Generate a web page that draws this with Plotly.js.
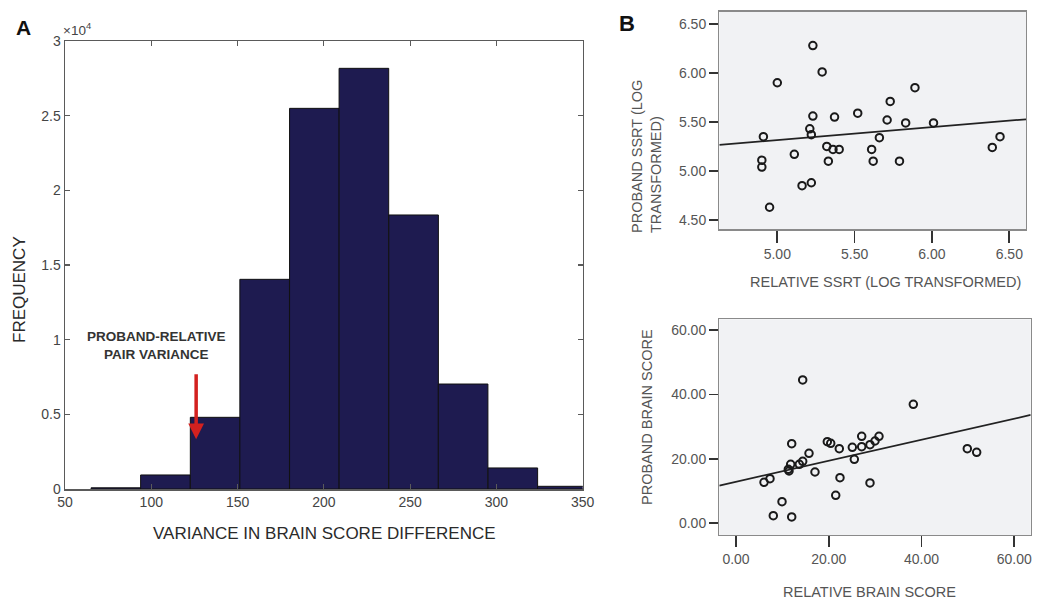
<!DOCTYPE html>
<html>
<head>
<meta charset="utf-8">
<script src="https://cdn.plot.ly/plotly-3.0.1.min.js"></script>
<style>html,body{margin:0;padding:0;background:#fff;}#chart{width:1037px;height:599px;}</style>
</head>
<body>
<div id="chart"></div>
<script>
// ---------- Panel A: histogram data ----------
const binCenters = [79.5, 108.2, 137.0, 165.7, 194.5, 223.2, 252.0, 280.7, 309.5, 338.2];
const binWidth = 28.75;
const binCounts = [80, 940, 4800, 14040, 25490, 28170, 18350, 7030, 1410, 180];
const histYTickVals = [0, 5000, 10000, 15000, 20000, 25000, 30000];
const histYTickText = ['0', '0.5', '1', '1.5', '2', '2.5', '3'];
const histXTickVals = [50, 100, 150, 200, 250, 300, 350];
const pairVariance = 126;          // proband-relative pair variance marked by the arrow
const arrowTop = 7790, arrowTip = 3330;

// ---------- Panel B (top): SSRT ----------
const relativeSSRT = [5.23, 5.29, 5.00, 5.89, 5.73, 5.23, 5.37, 5.52, 5.71, 5.83, 5.21, 5.22, 4.91, 5.66, 5.32,
                      5.36, 5.40, 5.61, 5.11, 4.90, 4.90, 5.33, 5.62, 5.79, 5.16, 5.22, 4.95, 6.01, 6.39, 6.44];
const probandSSRT  = [6.28, 6.01, 5.90, 5.85, 5.71, 5.56, 5.55, 5.59, 5.52, 5.49, 5.43, 5.37, 5.35, 5.34, 5.25,
                      5.22, 5.22, 5.22, 5.17, 5.11, 5.04, 5.10, 5.10, 5.10, 4.85, 4.88, 4.63, 5.49, 5.24, 5.35];
const ssrtFit = {intercept: 4.655, slope: 0.132};
const ssrtXTicks = [5.0, 5.5, 6.0, 6.5];
const ssrtYTicks = [4.5, 5.0, 5.5, 6.0, 6.5];

// ---------- Panel B (bottom): brain score ----------
const relativeBrain = [14.38, 38.23, 12.01, 19.69, 20.42, 22.27, 25.08, 27.10, 27.10, 28.89, 29.97, 30.83, 25.51, 15.74, 11.79,
                       13.65, 14.38, 11.43, 11.28, 17.03, 7.33, 6.04, 22.42, 28.89, 9.92, 21.50, 8.04, 12.01, 49.87, 51.89];
const probandBrain  = [44.48, 36.93, 24.71, 25.33, 24.83, 23.15, 23.59, 27.00, 23.77, 24.39, 25.54, 27.00, 19.86, 21.72, 18.31,
                       18.31, 19.24, 16.23, 16.76, 15.92, 13.84, 12.72, 14.15, 12.51, 6.70, 8.69, 2.36, 1.96, 23.15, 22.03];
const brainFit = {intercept: 12.9, slope: 0.326};
const brainTicks = [0, 20, 40, 60];

// ---------- layout helpers ----------
const W = 1037, H = 599;
const px = x => x / W;
const py = y => 1 - y / H;
const FONT = 'Liberation Sans, Arial, sans-serif';

const ssrtXRange = [4.625, 6.608], ssrtYRange = [4.405, 6.625];
const brainXRange = [-3.6, 63.54], brainYRange = [-3.63, 63.3];

const fitLine = (fit, range) => ({x: range, y: range.map(v => fit.intercept + fit.slope * v)});
const ssrtLine = fitLine(ssrtFit, ssrtXRange);
const brainLine = fitLine(brainFit, brainXRange);

const markerStyle = {symbol: 'circle-open', size: 7.5, color: '#1a1a1a', line: {width: 2, color: '#1a1a1a'}};

const traces = [
  {type: 'bar', x: binCenters, y: binCounts, width: binCenters.map(() => binWidth),
   marker: {color: '#1e1b50', line: {color: '#111111', width: 1}}, xaxis: 'x', yaxis: 'y', hoverinfo: 'skip'},
  {type: 'scatter', mode: 'lines', x: ssrtLine.x, y: ssrtLine.y, line: {color: '#222', width: 1.8},
   xaxis: 'x2', yaxis: 'y2', hoverinfo: 'skip'},
  {type: 'scatter', mode: 'markers', x: relativeSSRT, y: probandSSRT, marker: markerStyle, xaxis: 'x2', yaxis: 'y2'},
  {type: 'scatter', mode: 'lines', x: brainLine.x, y: brainLine.y, line: {color: '#222', width: 1.8},
   xaxis: 'x3', yaxis: 'y3', hoverinfo: 'skip'},
  {type: 'scatter', mode: 'markers', x: relativeBrain, y: probandBrain, marker: markerStyle, xaxis: 'x3', yaxis: 'y3'}
];

const histAxisCommon = {showgrid: false, zeroline: false, showline: true, linecolor: '#5a5a5a', linewidth: 1.5,
  mirror: 'ticks', ticks: 'inside', ticklen: 5, tickwidth: 1.2, tickcolor: '#5a5a5a',
  tickfont: {family: FONT, size: 14, color: '#444'}};

const sAxisCommon = {showgrid: false, zeroline: false, showline: true, linecolor: '#8a8a8a', linewidth: 1.3,
  mirror: true, ticks: 'outside', ticklen: 9, tickwidth: 1.6, tickcolor: '#333',
  tickfont: {family: FONT, size: 14, color: '#555'}, tickformat: '.2f'};

function label(x, y, text, size, color, extra) {
  return Object.assign({xref: 'paper', yref: 'paper', x: px(x), y: py(y), xanchor: 'center', yanchor: 'middle',
    text: text, showarrow: false, font: {family: FONT, size: size, color: color}}, extra || {});
}

const layout = {
  width: W, height: H, margin: {l: 0, r: 0, t: 0, b: 0},
  paper_bgcolor: '#ffffff', plot_bgcolor: '#ffffff', showlegend: false,
  xaxis: Object.assign({}, histAxisCommon, {domain: [px(65), px(582.7)], range: [50, 350],
    tickvals: histXTickVals, anchor: 'y'}),
  yaxis: Object.assign({}, histAxisCommon, {domain: [py(489), py(41)], range: [0, 30000],
    tickvals: histYTickVals, ticktext: histYTickText, anchor: 'x'}),
  xaxis2: Object.assign({}, sAxisCommon, {domain: [px(719.3), px(1026)], range: ssrtXRange,
    tickvals: ssrtXTicks, ticklen: 12, anchor: 'y2'}),
  yaxis2: Object.assign({}, sAxisCommon, {domain: [py(229.3), py(11.7)], range: ssrtYRange,
    tickvals: ssrtYTicks, anchor: 'x2'}),
  xaxis3: Object.assign({}, sAxisCommon, {domain: [px(719.3), px(1030.7)], range: brainXRange,
    tickvals: brainTicks, ticklen: 11, anchor: 'y3'}),
  yaxis3: Object.assign({}, sAxisCommon, {domain: [py(535), py(319.3)], range: brainYRange,
    tickvals: brainTicks, anchor: 'x3'}),
  annotations: [
    label(23, 27, '<b>A</b>', 21, '#111'),
    label(627, 24, '<b>B</b>', 22, '#111'),
    label(61, 29, '×10<sup>4</sup>', 13.5, '#444', {xanchor: 'left'}),
    // Panel A titles
    label(324, 533, 'VARIANCE IN BRAIN SCORE DIFFERENCE', 17, '#2a2a2a'),
    label(19, 290, 'FREQUENCY', 17, '#2a2a2a', {textangle: -90}),
    // Panel A note + arrow
    {xref: 'x', yref: 'y', x: 103, y: 9600, xanchor: 'center', yanchor: 'middle',
     text: '<b>PROBAND-RELATIVE<br>PAIR VARIANCE</b>', showarrow: false,
     align: 'center', font: {family: FONT, size: 13.5, color: '#333'}},
    {xref: 'x', yref: 'y', x: pairVariance, y: arrowTip, axref: 'x', ayref: 'y', ax: pairVariance, ay: arrowTop,
     text: '', showarrow: true, arrowhead: 2, arrowsize: 0.9, arrowwidth: 3.5, arrowcolor: '#d3211f'},
    // Panel B top titles
    label(885, 282, 'RELATIVE SSRT (LOG TRANSFORMED)', 14.5, '#555'),
    label(646, 157, 'PROBAND SSRT (LOG<br>TRANSFORMED)', 14.5, '#555', {textangle: -90, align: 'left'}),
    // Panel B bottom titles
    label(869, 592, 'RELATIVE BRAIN SCORE', 14.5, '#555'),
    label(647, 417, 'PROBAND BRAIN SCORE', 14.5, '#555', {textangle: -90})
  ],
  shapes: [
    {type: 'rect', xref: 'x2 domain', yref: 'y2 domain', x0: 0, x1: 1, y0: 0, y1: 1,
     fillcolor: '#f1f2f4', line: {width: 0}, layer: 'below'},
    {type: 'rect', xref: 'x3 domain', yref: 'y3 domain', x0: 0, x1: 1, y0: 0, y1: 1,
     fillcolor: '#f1f2f4', line: {width: 0}, layer: 'below'}
  ]
};

Plotly.newPlot('chart', traces, layout, {displayModeBar: false, staticPlot: true});
</script>
</body>
</html>
